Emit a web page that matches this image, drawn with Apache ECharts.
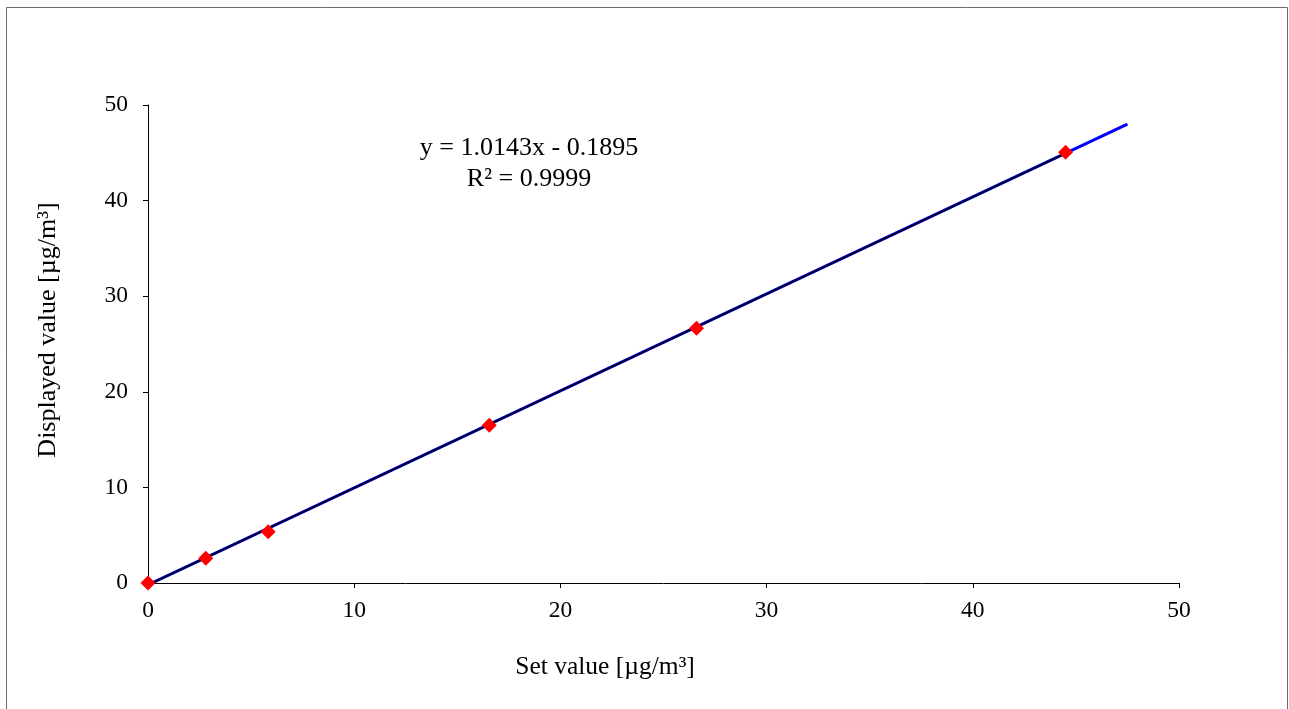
<!DOCTYPE html>
<html>
<head>
<meta charset="utf-8">
<style>
  html, body { margin: 0; padding: 0; background: #fff; }
  #chart { width: 1289px; height: 709px; }
</style>
<script src="https://cdn.jsdelivr.net/npm/echarts@6/dist/echarts.min.js"></script>
</head>
<body>
<div id="chart"></div>
<script>
// Calibration measurements
const setValues = [0, 2.8, 5.83, 16.55, 26.6, 44.5];
const displayedValues = [0, 2.6, 5.37, 16.5, 26.65, 45.05];

// Linear fit as stated in the equation label
const slope = 1.0143;
const intercept = -0.1895;
const rSquared = 0.9999;
const fitRange = [0, 44.5];       // over the measured range
const forecastRange = [0, 47.5];  // extended forward

const axisTicks = [0, 10, 20, 30, 40, 50];
const xTitle = 'Set value [µg/m³]';
const yTitle = 'Displayed value [µg/m³]';

const measured = setValues.map((x, i) => [x, displayedValues[i]]);
const fitLine = fitRange.map(x => [x, slope * x + intercept]);
const forecastLine = forecastRange.map(x => [x, slope * x + intercept]);

const font = '"Liberation Serif", "Times New Roman", serif';
const chart = echarts.init(document.getElementById('chart'));

const eqLine1 = 'y = ' + slope.toFixed(4) + 'x - ' + Math.abs(intercept).toFixed(4);
const eqLine2 = 'R² = ' + rSquared.toFixed(4);

chart.setOption({
  animation: false,
  backgroundColor: '#fff',
  textStyle: { fontFamily: font },
  graphic: [
    {
      type: 'rect',
      shape: { x: 6.5, y: 7.5, width: 1281, height: 720 },
      style: { fill: 'none', stroke: '#6b6b6b', lineWidth: 1 },
      silent: true
    },
    {
      type: 'text',
      x: 529, y: 148,
      style: { text: eqLine1, textAlign: 'center', textVerticalAlign: 'middle', font: '26px ' + font, fill: '#000' },
      silent: true
    },
    {
      type: 'text',
      x: 529, y: 179,
      style: { text: eqLine2, textAlign: 'center', textVerticalAlign: 'middle', font: '26px ' + font, fill: '#000' },
      silent: true
    },
    {
      type: 'text',
      x: 605, y: 667,
      style: { text: xTitle, textAlign: 'center', textVerticalAlign: 'middle', font: '25.5px ' + font, fill: '#000' },
      silent: true
    },
    {
      type: 'text',
      x: 48, y: 330,
      rotation: Math.PI / 2,
      style: { text: yTitle, textAlign: 'center', textVerticalAlign: 'middle', font: '26px ' + font, fill: '#000' },
      silent: true
    }
  ],
  grid: { left: 148, right: 110, top: 105, bottom: 126, containLabel: false },
  xAxis: {
    type: 'value',
    min: axisTicks[0],
    max: axisTicks[axisTicks.length - 1],
    interval: 10,
    axisLine: { show: true, onZero: false, lineStyle: { color: '#000', width: 1 } },
    axisTick: { show: true, length: 5, inside: false, lineStyle: { color: '#000' } },
    axisLabel: { fontFamily: font, fontSize: 23.5, color: '#000', margin: 16 },
    splitLine: { show: false }
  },
  yAxis: {
    type: 'value',
    min: axisTicks[0],
    max: axisTicks[axisTicks.length - 1],
    interval: 10,
    axisLine: { show: true, onZero: false, lineStyle: { color: '#000', width: 1 } },
    axisTick: { show: true, length: 5, inside: false, lineStyle: { color: '#000' } },
    axisLabel: { fontFamily: font, fontSize: 23.5, color: '#000', margin: 20 },
    splitLine: { show: false }
  },
  series: [
    {
      name: 'Forecast',
      type: 'line',
      data: forecastLine,
      symbol: 'none',
      lineStyle: { color: '#0000ff', width: 3 },
      z: 2
    },
    {
      name: 'Fit',
      type: 'line',
      data: fitLine,
      symbol: 'none',
      lineStyle: { color: '#00002a', width: 2 },
      z: 3
    },
    {
      name: 'Measured',
      type: 'scatter',
      data: measured,
      symbol: 'diamond',
      symbolSize: 15,
      itemStyle: { color: '#ff0000', opacity: 1 },
      z: 4
    }
  ]
});
</script>
</body>
</html>
